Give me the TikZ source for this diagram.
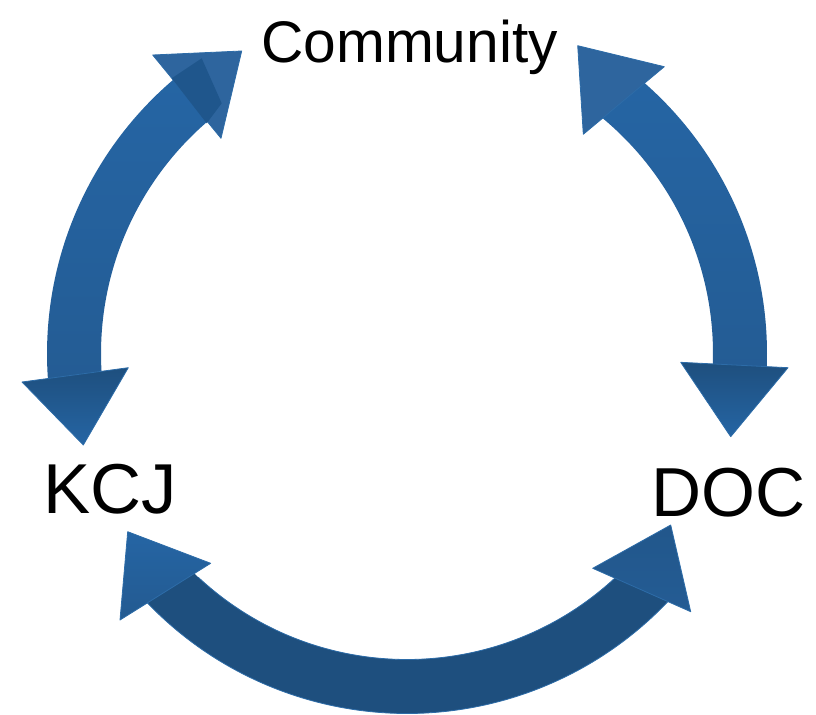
\documentclass[tikz,border=0pt]{standalone}
\usepackage{fontspec}
\setmainfont{Liberation Sans}
\usetikzlibrary{calc}
\definecolor{blueA}{RGB}{37,101,164}
\definecolor{blueB}{RGB}{36,92,148}
\definecolor{blueD}{RGB}{30,79,126}
\definecolor{blueH}{RGB}{46,101,158}
\definecolor{blueQ}{RGB}{31,86,140}
\definecolor{blueE}{RGB}{45,108,168}
\tikzset{
  edge/.style={draw=blueE, line width=0.6, line join=round},
  lbl/.style={anchor=base, inner sep=0pt, text=black},
}
\begin{document}
\begin{tikzpicture}[x=0.75pt,y=0.75pt]
\useasboundingbox (0,0) rectangle (816,714);
\coordinate (C) at (407,360.5);
\def\Ro{360}
\def\Ri{306}
% left arrow shaft
\shade[top color=blueA, bottom color=blueB]
  ($(C)+(129.5:\Ro)$) arc[start angle=129.5, end angle=184.5, radius=\Ro]
  -- ($(C)+(184.5:\Ri)$) arc[start angle=184.5, end angle=129.5, radius=\Ri] -- cycle;
% right arrow shaft
\shade[top color=blueA, bottom color=blueB]
  ($(C)+(51.5:\Ro)$) arc[start angle=51.5, end angle=-3.5, radius=\Ro]
  -- ($(C)+(-3.5:\Ri)$) arc[start angle=-3.5, end angle=51.5, radius=\Ri] -- cycle;
% bottom arrow shaft
\fill[blueD]
  ($(C)+(222.5:\Ro)$) arc[start angle=222.5, end angle=317.5, radius=\Ro]
  -- ($(C)+(317.5:\Ri)$) arc[start angle=317.5, end angle=222.5, radius=\Ri] -- cycle;
\draw[blueE, line width=0.6] ($(C)+(223:\Ro)$) arc[start angle=223, end angle=317, radius=\Ro];
\draw[blueE, line width=0.6] ($(C)+(227:\Ri)$) arc[start angle=227, end angle=313, radius=\Ri];
% heads of left arrow
\fill[blueH, edge] (152.7,659) -- (241.7,663) -- (221,575.7) -- cycle;
\fill[blueQ] (171.7,635.7) -- (201.7,655.7) -- (221.7,610.7) -- (206.7,590.7) -- cycle;
\shade[top color=blueD, bottom color=blueA, edge] (22,332) -- (128.3,346.3) -- (83.3,269) -- cycle;
% heads of right arrow
\fill[blueH, edge] (577.7,668.3) -- (664.3,647.3) -- (583.3,579.7) -- cycle;
\shade[top color=blueD, bottom color=blueA, edge] (680.7,351.7) -- (788,346.3) -- (730.7,277.3) -- cycle;
% heads of bottom arrow
\shade[top color=blueA, bottom color=blueB!85!blueD, edge] (127.7,182.3) -- (210.7,150.7) -- (120,94) -- cycle;
\shade[top color=blueB!60!blueD, middle color=blueD, bottom color=blueB, edge] (670.7,189) -- (592.7,145.7) -- (690.7,102.3) -- cycle;
% labels
\node[lbl, font=\fontsize{44}{53}\selectfont] (community) at (409.5,651.5) {Community};
\node[lbl, font=\fontsize{53}{64}\selectfont] (kcj) at (110.5,201) {KCJ};
\node[lbl, font=\fontsize{52}{62}\selectfont] (doc) at (728.5,198) {DOC};
\end{tikzpicture}
\end{document}
